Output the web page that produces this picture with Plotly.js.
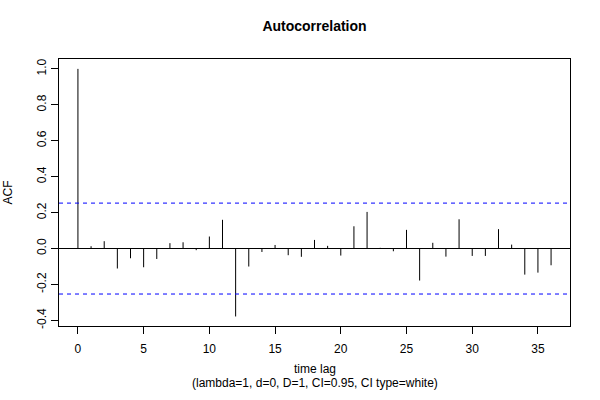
<!DOCTYPE html>
<html>
<head>
<meta charset="utf-8">
<script src="https://cdn.plot.ly/plotly-3.0.1.min.js"></script>
<style>html,body{margin:0;padding:0;background:#fff;}#chart{width:600px;height:400px;}</style>
</head>
<body>
<div id="chart"></div>
<script>
// Data
var lags = [0,1,2,3,4,5,6,7,8,9,10,11,12,13,14,15,16,17,18,19,20,21,22,23,24,25,26,27,28,29,30,31,32,33,34,35,36];
var acf = [1.0, 0.013, 0.041, -0.111, -0.054, -0.104, -0.058, 0.030, 0.035, -0.009, 0.067, 0.160, -0.378,
           -0.100, -0.019, 0.020, -0.037, -0.046, 0.048, 0.015, -0.039, 0.124, 0.204, 0.004, -0.015, 0.104,
           -0.178, 0.032, -0.045, 0.163, -0.041, -0.041, 0.108, 0.022, -0.145, -0.134, -0.093];
var ciLevel = 0.253;
var xTickVals = [0,5,10,15,20,25,30,35];
var yTickVals = [-0.4,-0.2,0.0,0.2,0.4,0.6,0.8,1.0];
var yTickText = ["-0.4","-0.2","0.0","0.2","0.4","0.6","0.8","1.0"];
var xTitleLines = ["time lag", "(lambda=1, d=0, D=1, CI=0.95, CI type=white)"];

// Build vertical spikes (type="h") from the data
var sx = [], sy = [];
for (var i = 0; i < lags.length; i++) {
  sx.push(lags[i], lags[i], null);
  sy.push(0, acf[i], null);
}

var font = "Liberation Sans, Arial, Helvetica, sans-serif";

var traces = [{
  type: 'scatter', mode: 'lines', x: sx, y: sy,
  line: {color: '#000000', width: 1}, hoverinfo: 'skip', showlegend: false
}];

var layout = {
  width: 600, height: 400,
  margin: {l: 59, r: 30, t: 59, b: 74},
  paper_bgcolor: '#ffffff', plot_bgcolor: '#ffffff',
  font: {family: font, size: 12, color: '#000000'},
  showlegend: false,
  title: {
    text: '<b>Autocorrelation</b>',
    font: {family: font, size: 14, color: '#000000'},
    xref: 'paper', x: 0.5, xanchor: 'center',
    yref: 'container', y: 1 - 26/400, yanchor: 'middle'
  },
  xaxis: {
    range: [-1.44, 37.44],
    tickmode: 'array', tickvals: xTickVals,
    ticks: 'outside', ticklen: 7, tickwidth: 1, tickcolor: '#000',
    ticklabelstandoff: 5,
    showgrid: false, zeroline: false,
    showline: true, mirror: true, linecolor: '#000', linewidth: 1,
    tickfont: {family: font, size: 12, color: '#000'}
  },
  yaxis: {
    range: [-0.431, 1.055],
    tickmode: 'array', tickvals: yTickVals, ticktext: yTickText,
    tickangle: -90,
    ticks: 'outside', ticklen: 7, tickwidth: 1, tickcolor: '#000',
    showgrid: false,
    zeroline: true, zerolinecolor: '#000', zerolinewidth: 1,
    showline: true, mirror: true, linecolor: '#000', linewidth: 1,
    tickfont: {family: font, size: 12, color: '#000'},
    title: {text: 'ACF', font: {family: font, size: 12, color: '#000'}, standoff: 20}
  },
  annotations: [
    {text: xTitleLines[0], xref: 'paper', yref: 'paper', x: 0.5, y: -(369 - 326) / 267,
     xanchor: 'center', yanchor: 'middle', showarrow: false,
     font: {family: font, size: 12, color: '#000'}},
    {text: xTitleLines[1], xref: 'paper', yref: 'paper', x: 0.5, y: -(383 - 326) / 267,
     xanchor: 'center', yanchor: 'middle', showarrow: false,
     font: {family: font, size: 12, color: '#000'}}
  ],
  shapes: [
    {type: 'line', xref: 'paper', yref: 'y', x0: 0, x1: 1, y0: ciLevel, y1: ciLevel,
     line: {color: '#0000ff', width: 1, dash: '4px,4px'}},
    {type: 'line', xref: 'paper', yref: 'y', x0: 0, x1: 1, y0: -ciLevel, y1: -ciLevel,
     line: {color: '#0000ff', width: 1, dash: '4px,4px'}}
  ]
};

Plotly.newPlot('chart', traces, layout, {staticPlot: true, displayModeBar: false});
</script>
</body>
</html>
